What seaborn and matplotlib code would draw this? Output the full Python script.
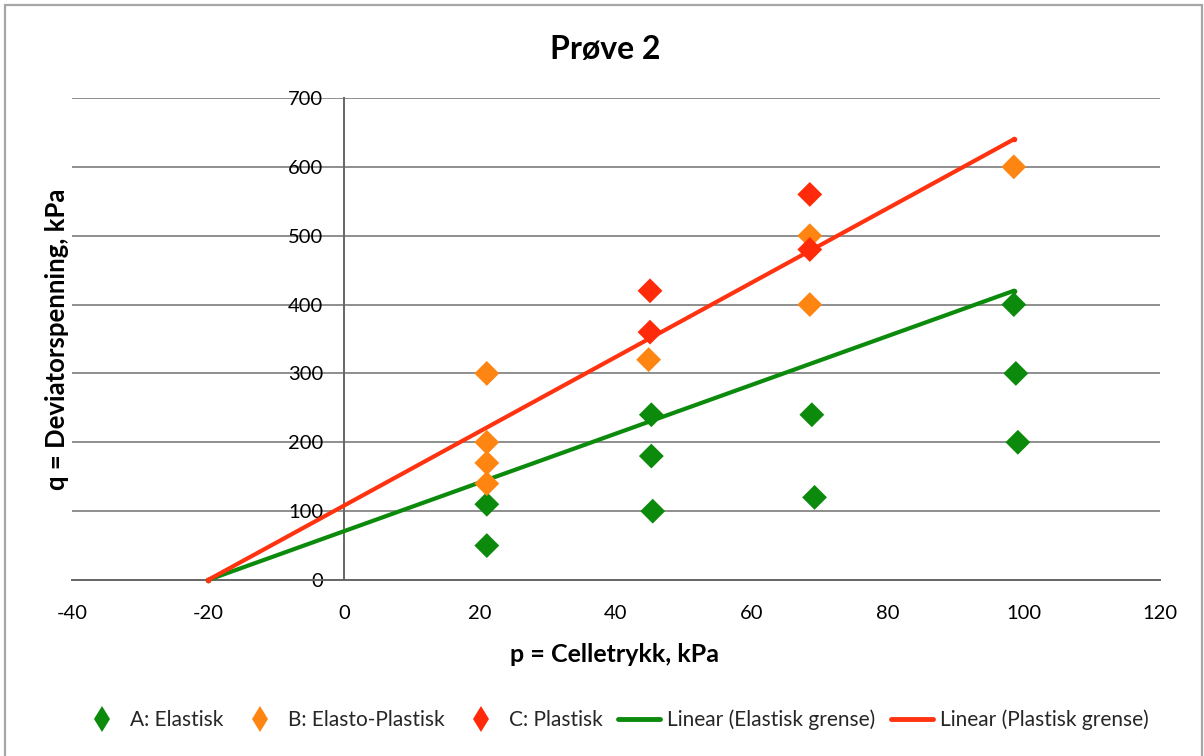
import matplotlib
matplotlib.use("Agg")
import matplotlib.pyplot as plt
from matplotlib.lines import Line2D
from matplotlib.patches import Rectangle
import seaborn as sns
import pandas as pd

# Measured stress states (p = cell pressure, q = deviator stress), kPa
elastisk_p = [21, 21, 45.4, 45.2, 45.2, 69.2, 68.8, 99.1, 98.8, 98.5]
elastisk_q = [50, 110, 100, 180, 240, 120, 240, 200, 300, 400]

elastoplast_p = [21, 21, 21, 21, 44.8, 68.5, 68.5, 98.5]
elastoplast_q = [140, 170, 200, 300, 320, 400, 500, 600]

plastisk_p = [45, 45, 68.5, 68.5]
plastisk_q = [360, 420, 480, 560]

# Limit lines
grense_p = [-20, 98.5]
elastisk_grense_q = [0, 420]
plastisk_grense_q = [0, 640]

klasser = ["A: Elastisk", "B: Elasto-Plastisk", "C: Plastisk"]
farger = {"A: Elastisk": "#0b8a0b", "B: Elasto-Plastisk": "#ff8512", "C: Plastisk": "#ff2a0a"}
farge_elastisk_linje = "#0b8a0b"
farge_plastisk_linje = "#ff3310"

x_ticks = [-40, -20, 0, 20, 40, 60, 80, 100, 120]
y_ticks = [0, 100, 200, 300, 400, 500, 600, 700]

sns.set_style("white")
plt.rcParams["font.family"] = ["Lato", "DejaVu Sans"]
plt.rcParams["axes.unicode_minus"] = False

punkter = pd.DataFrame({
    "p": elastisk_p + elastoplast_p + plastisk_p,
    "q": elastisk_q + elastoplast_q + plastisk_q,
    "klasse": [klasser[0]] * len(elastisk_p) + [klasser[1]] * len(elastoplast_p)
              + [klasser[2]] * len(plastisk_p),
})
linjer = pd.DataFrame({
    "p": grense_p + grense_p,
    "q": elastisk_grense_q + plastisk_grense_q,
    "linje": ["Linear (Elastisk grense)"] * 2 + ["Linear (Plastisk grense)"] * 2,
})

fig = plt.figure(figsize=(12.04, 7.56), dpi=100)
fig.patch.set_facecolor("white")
W, H = 1204, 756
ax = fig.add_axes([72 / W, 1 - 580 / H, (1160 - 72) / W, (580 - 98) / H])

# Outer chart frame
fig.patches.append(Rectangle((5 / W, -0.02), 1197 / W, 1 - 5 / H + 0.02,
                             transform=fig.transFigure, fill=False,
                             edgecolor="#a6a6a6", linewidth=1.6))

ax.set_xlim(-40, 120)
ax.set_ylim(0, 700)
ax.set_xticks(x_ticks)
ax.set_yticks(y_ticks)
ax.yaxis.grid(True, color="#8e8e8e", linewidth=1.4)
ax.xaxis.grid(False)
ax.set_axisbelow(True)

sns.lineplot(data=linjer, x="p", y="q", hue="linje",
             palette=[farge_elastisk_linje, farge_plastisk_linje],
             linewidth=3.0, marker="o", markersize=4, markeredgewidth=0,
             legend=False, ax=ax, zorder=3, clip_on=False, sort=False)

sns.scatterplot(data=punkter, x="p", y="q", hue="klasse", hue_order=klasser,
                palette=farger, marker="D", s=160, linewidth=0,
                legend=False, ax=ax, zorder=4)

for s in ["top", "right"]:
    ax.spines[s].set_visible(False)
ax.spines["left"].set_position(("data", 0))
ax.spines["left"].set_color("#666666")
ax.spines["bottom"].set_color("#666666")
ax.spines["left"].set_linewidth(1.4)
ax.spines["bottom"].set_linewidth(1.4)
ax.tick_params(axis="both", direction="out", length=5, width=1.4, color="#666666",
               labelsize=14.5, labelcolor="black")
ax.tick_params(axis="y", pad=10)
ax.tick_params(axis="x", pad=13)
ax.set_xlabel("")
ax.set_ylabel("")

fig.text(605 / W, 1 - 50 / H, "Prøve 2", ha="center", va="center",
         fontsize=23, fontweight="bold", color="black")
fig.text(615 / W, 1 - 654 / H, "p = Celletrykk, kPa", ha="center", va="center",
         fontsize=18, fontweight="bold", color="black")
fig.text(57 / W, 1 - 339 / H, "q = Deviatorspenning, kPa", ha="center", va="center",
         rotation=90, fontsize=18.5, fontweight="bold", color="black")

handles = [Line2D([], [], linestyle="none", marker="d", markersize=13,
                  markerfacecolor=farger[k], markeredgewidth=0) for k in klasser]
handles += [Line2D([], [], color=farge_elastisk_linje, linewidth=3.5),
            Line2D([], [], color=farge_plastisk_linje, linewidth=3.5)]
labels = klasser + ["Linear (Elastisk grense)", "Linear (Plastisk grense)"]
fig.legend(handles, labels, loc="center", bbox_to_anchor=(615 / W, 1 - 720 / H),
           ncol=5, frameon=False, fontsize=15, handlelength=2.0,
           handletextpad=0.35, columnspacing=0.75)

fig.savefig("out.png", dpi=100, facecolor="white")
